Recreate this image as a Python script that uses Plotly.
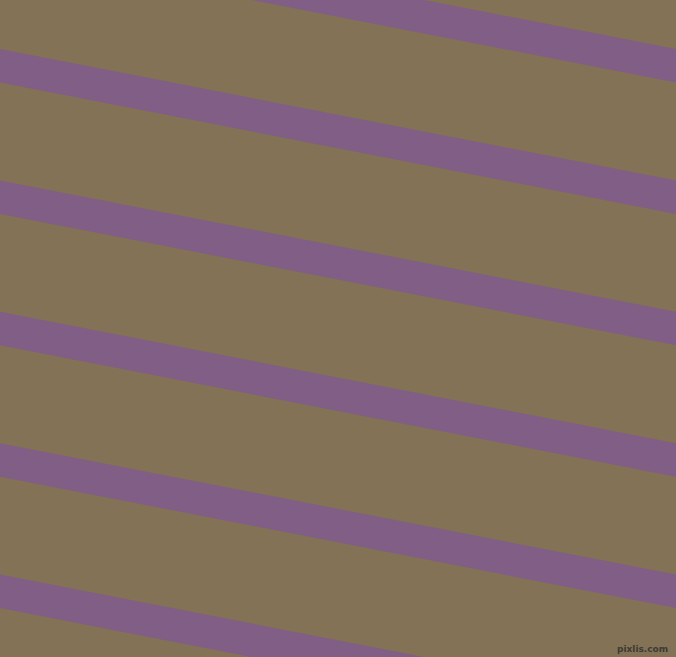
import numpy as np
import plotly.graph_objects as go

W, H = 676, 657

# stripe pattern
stripe_tops = [-82.4, 49.0, 180.4, 311.8, 443.2, 574.6]   # y of stripe top edge at x=0
stripe_height = 33.5                                      # vertical thickness
slope = 0.1944                                            # ~11 degrees, going down to the right

bg_color = '#837256'
stripe_color = '#815E85'

fig = go.Figure()

for y0 in stripe_tops:
    xs = [0, W, W, 0, 0]
    ys = [y0, y0 + slope*W, y0 + slope*W + stripe_height, y0 + stripe_height, y0]
    fig.add_trace(go.Scatter(
        x=xs, y=ys,
        mode='lines',
        fill='toself',
        fillcolor=stripe_color,
        line=dict(width=0, color=stripe_color),
        hoverinfo='skip',
        showlegend=False
    ))

# small watermark bottom right
fig.add_annotation(
    x=1, y=0, xref='paper', yref='paper',
    xanchor='right', yanchor='bottom',
    xshift=-6, yshift=1,
    text='<b>pixlis.com</b>',
    showarrow=False,
    font=dict(family='DejaVu Sans', size=9, color='#3f3a35')
)

fig.update_layout(
    width=W, height=H,
    margin=dict(l=0, r=0, t=0, b=0),
    paper_bgcolor=bg_color,
    plot_bgcolor=bg_color,
    xaxis=dict(visible=False, range=[0, W], fixedrange=True),
    yaxis=dict(visible=False, range=[H, 0], fixedrange=True),
)

# page body has a default margin, drop it so the chart fills the window
fig.write_html("out.html", config=dict(displayModeBar=False),
               post_script="document.body.style.margin='0';document.body.style.overflow='hidden';")
